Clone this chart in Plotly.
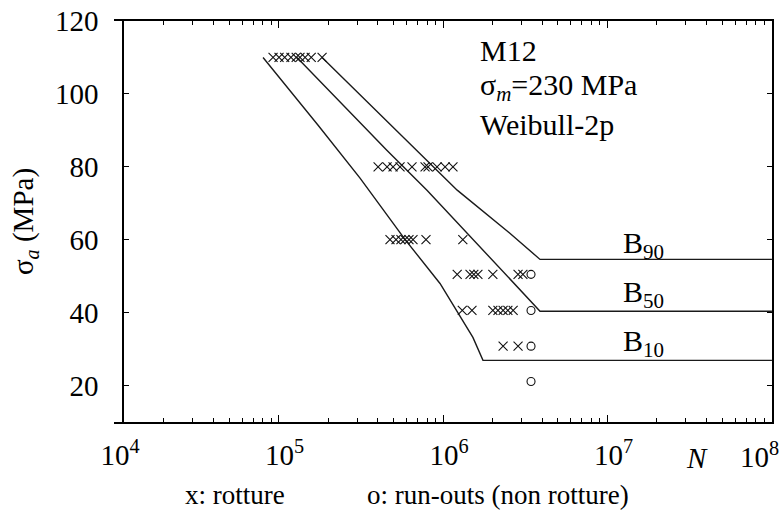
import plotly.graph_objects as go

# ---- data ----
# failures (x markers)
fail_N = [9.26e4, 1.007e5, 1.09e5, 1.19e5, 1.28e5, 1.35e5, 1.45e5, 1.58e5, 1.84e5,
          4.03e5, 4.57e5, 4.97e5, 5.48e5, 6.48e5, 7.78e5, 8.11e5, 9.2e5, 1.03e6, 1.15e6,
          4.76e5, 5.18e5, 5.55e5, 5.87e5, 6.21e5, 6.57e5, 7.88e5, 1.32e6,
          1.22e6, 1.46e6, 1.54e6, 1.63e6, 2.01e6, 2.86e6, 3.06e6,
          1.31e6, 1.50e6, 2.01e6, 2.16e6, 2.32e6, 2.48e6, 2.67e6,
          2.32e6, 2.86e6]
fail_S = [110] * 9 + [80] * 10 + [60] * 8 + [50.5] * 7 + [40.6] * 7 + [30.8] * 2

# run-outs (o markers)
runout_N = [3.43e6, 3.43e6, 3.43e6, 3.43e6]
runout_S = [50.5, 40.6, 30.8, 21.1]

# probability curves
b10_N = [8.05e4, 1.74e5, 3.13e5, 5.87e5, 9.59e5, 1.52e6, 1.75e6, 1e8]
b10_S = [110, 91.4, 76.9, 60.1, 48.0, 33.2, 26.9, 26.9]
b50_N = [1.295e5, 4.57e5, 7.99e5, 1.52e6, 1.99e6, 3.89e6, 1e8]
b50_S = [110, 84.5, 73.6, 60.1, 54.4, 40.4, 40.4]
b90_N = [1.84e5, 6.95e5, 1.22e6, 2.55e6, 3.89e6, 1e8]
b90_S = [110, 84.5, 73.6, 61.8, 54.6, 54.6]

x_tickvals = [1e4, 1e5, 1e6, 1e7, 1e8]
x_ticktext = ["10<sup>4</sup>", "10<sup>5</sup>", "10<sup>6</sup>", "10<sup>7</sup>", ""]
x_last_label = "10<sup>8</sup>"
x_minor = [m * d for d in (1e4, 1e5, 1e6, 1e7) for m in range(2, 10)]
y_tickvals = [20, 40, 60, 80, 100, 120]

FONT = "Times New Roman, Liberation Serif, serif"
W, H = 782, 515
ML, MR, MT, MB = 114, 10, 21, 93
PW, PH = W - ML - MR, H - MT - MB
XR = [3.9995, 8.0005]


def px(x):
    return (x - ML) / PW


def py(y):
    return (H - MB - y) / PH


fig = go.Figure()
for n, s in [(b10_N, b10_S), (b50_N, b50_S), (b90_N, b90_S)]:
    fig.add_trace(go.Scatter(x=n, y=s, mode="lines",
                             line=dict(color="#1a1a1a", width=1.4),
                             showlegend=False, hoverinfo="skip"))
fig.add_trace(go.Scatter(x=fail_N, y=fail_S, mode="markers",
                         marker=dict(symbol="x-thin", size=9,
                                     line=dict(color="#111", width=1.1)),
                         showlegend=False))
fig.add_trace(go.Scatter(x=runout_N, y=runout_S, mode="markers",
                         marker=dict(symbol="circle-open", size=8,
                                     color="#111", line=dict(width=1.1)),
                         showlegend=False))
# invisible traces to activate the mirror axes (top and right)
fig.add_trace(go.Scatter(x=[1e4], y=[10], yaxis="y2", mode="markers",
                         marker=dict(opacity=0), showlegend=False,
                         hoverinfo="skip"))
fig.add_trace(go.Scatter(x=[1e4], y=[10], xaxis="x2", mode="markers",
                         marker=dict(opacity=0), showlegend=False,
                         hoverinfo="skip"))

common_x = dict(type="log", range=XR, tickvals=x_tickvals, automargin=False,
                ticks="inside", ticklen=7, tickwidth=1.3, tickcolor="black",
                showline=True, linewidth=2, linecolor="black",
                showgrid=False, zeroline=False,
                minor=dict(ticks="inside", ticklen=4, tickwidth=1,
                           tickcolor="black", tickmode="array",
                           tickvals=x_minor, showgrid=False))

fig.update_layout(
    width=W, height=H,
    margin=dict(l=ML, r=MR, t=MT, b=MB, pad=0, autoexpand=False),
    paper_bgcolor="white", plot_bgcolor="white",
    font=dict(family=FONT, color="black", size=29),
    xaxis=dict(**common_x, ticktext=x_ticktext, ticklabelstandoff=6,
               ticklabelshift=6, ticklabeloverflow="allow",
               tickfont=dict(family=FONT, size=29)),
    xaxis2=dict(**common_x, overlaying="x", side="top", anchor="y",
                showticklabels=False),
    yaxis=dict(range=[10, 120], tickvals=y_tickvals, anchor="free",
               position=0.0141, ticks="inside", ticklen=5, tickwidth=1.3,
               tickcolor="black", showline=True, linewidth=2, linecolor="black",
               showgrid=False, zeroline=False, ticklabelstandoff=18,
               automargin=False, tickfont=dict(family=FONT, size=29),
               title=dict(text="σ<sub><i>a</i></sub> (MPa)",
                          font=dict(family=FONT, size=29), standoff=12)),
    yaxis2=dict(range=[10, 120], tickvals=y_tickvals, overlaying="y",
                side="right", anchor="x", ticks="inside", ticklen=5,
                tickwidth=1.3, tickcolor="black", showline=True, linewidth=2,
                linecolor="black", showticklabels=False, showgrid=False,
                zeroline=False, automargin=False),
)

ann = [
    ("M12", 478, 50, "left", 30),
    ("σ<sub><i>m</i></sub>=230 MPa", 478, 87, "left", 30),
    ("Weibull-2p", 478, 125, "left", 30),
    ("B<sub>90</sub>", 621, 245, "left", 30),
    ("B<sub>50</sub>", 621, 294, "left", 30),
    ("B<sub>10</sub>", 621, 343, "left", 30),
    ("<i>N</i>", 697, 458, "center", 29),
    (x_last_label, 781, 455, "right", 29),
    ("x: rotture", 183, 495, "left", 27),
    ("o: run-outs (non rotture)", 365, 495, "left", 27),
]
for text, x, y, xa, fs in ann:
    fig.add_annotation(text=text, x=px(x), y=py(y), xref="paper", yref="paper",
                       xanchor=xa, yanchor="middle", showarrow=False,
                       font=dict(family=FONT, size=fs, color="black"))

fig.write_html("out.html")
